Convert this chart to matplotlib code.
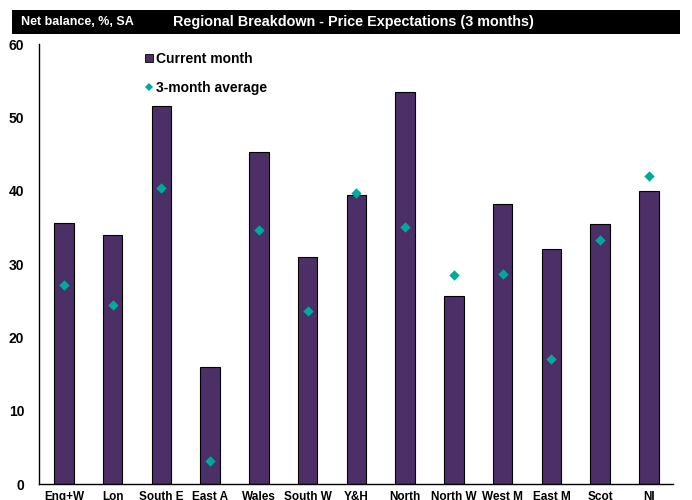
import matplotlib
matplotlib.use('Agg')
import matplotlib.pyplot as plt
from matplotlib.lines import Line2D
from matplotlib.patches import Rectangle
import numpy as np

plt.rcParams['font.family'] = ['Liberation Sans', 'DejaVu Sans']
plt.rcParams['font.weight'] = 'bold'

regions = ['Eng+W', 'Lon', 'South E', 'East A', 'Wales', 'South W', 'Y&H',
           'North', 'North W', 'West M', 'East M', 'Scot', 'NI']
current_month = [35.6, 34.0, 51.5, 16.0, 45.3, 31.0, 39.4, 53.4, 25.7, 38.2, 32.1, 35.4, 40.0]
three_month_avg = [27.2, 24.4, 40.3, 3.1, 34.7, 23.6, 39.7, 35.0, 28.5, 28.6, 17.0, 33.3, 42.0]

bar_color = '#4B2F66'
dot_color = '#00A99D'

fig = plt.figure(figsize=(6.92, 5.0), dpi=100)
ax = fig.add_axes([0.057, 0.032, 0.916, 0.880])

x = np.arange(len(regions))
ax.bar(x, current_month, width=0.4, color=bar_color, edgecolor='black', linewidth=0.8, zorder=2)
ax.scatter(x, three_month_avg, marker='D', s=28, color=dot_color, zorder=3, linewidths=0)

ax.set_xlim(-0.5, len(regions) - 0.5)
ax.set_ylim(0, 60)
ax.set_yticks(range(0, 61, 10))
ax.set_xticks(x)
ax.set_xticklabels(regions)
ax.tick_params(axis='both', length=0)
ax.tick_params(axis='y', pad=11, labelsize=10)
ax.tick_params(axis='x', pad=5, labelsize=8.5)
for lbl in ax.get_xticklabels() + ax.get_yticklabels():
    lbl.set_fontweight('bold')

for s in ['top', 'right']:
    ax.spines[s].set_visible(False)
ax.spines['left'].set_linewidth(1.0)
ax.spines['bottom'].set_linewidth(1.0)

handles = [
    Line2D([], [], marker='s', linestyle='none', markersize=6, markerfacecolor=bar_color,
           markeredgecolor='black', markeredgewidth=0.6),
    Line2D([], [], marker='D', linestyle='none', markersize=4.5, markerfacecolor=dot_color,
           markeredgewidth=0),
]
ax.legend(handles, ['Current month', '3-month average'], loc='upper left',
          bbox_to_anchor=(0.146, 1.01), frameon=False, handlelength=0.6, handletextpad=0.25,
          labelspacing=1.05, prop={'size': 10, 'weight': 'bold'})

# black title bar
fig.patches.append(Rectangle((12 / 692, 1 - 34 / 500), 668 / 692, 24 / 500,
                             transform=fig.transFigure, facecolor='black', edgecolor='none'))
fig.text(21 / 692, 1 - 22 / 500, 'Net balance, %, SA', color='white', fontsize=9,
         fontweight='bold', va='center', ha='left')
fig.text(353 / 692, 1 - 22 / 500, 'Regional Breakdown - Price Expectations (3 months)',
         color='white', fontsize=10.4, fontweight='bold', va='center', ha='center')

fig.savefig('out.png', dpi=100)
